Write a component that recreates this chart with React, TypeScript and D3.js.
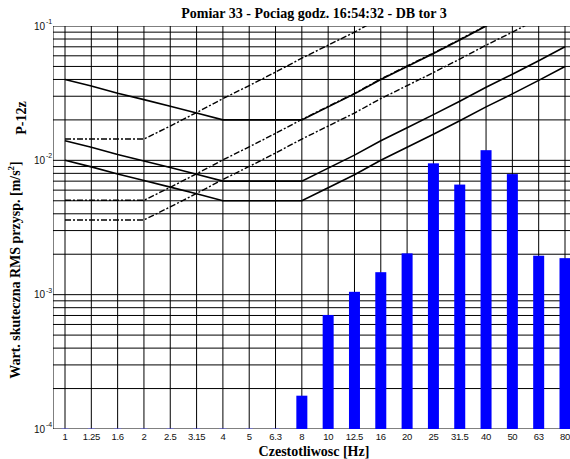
import React from "react";
import * as d3 from "d3";

const categories = ["1", "1.25", "1.6", "2", "2.5", "3.15", "4", "5", "6.3", "8", "10", "12.5", "16", "20", "25", "31.5", "40", "50", "63", "80"];
const measured = [0, 0, 0, 0, 0, 0, 0, 0, 0, 0.000177, 0.000706, 0.00105, 0.00147, 0.00203, 0.0095, 0.0066, 0.0119, 0.0079, 0.00195, 0.00187];

// Reference curves (solid: z-direction, dash-dot: x/y-direction)
const curveZ4 = [0.04, 0.0358, 0.0316, 0.0283, 0.0253, 0.0225, 0.02, 0.02, 0.02, 0.02, 0.025, 0.03125, 0.04, 0.05, 0.0625, 0.07875, 0.1, 0.125, 0.1575, 0.2];
const curveZ14 = [0.014, 0.01252, 0.01107, 0.0099, 0.00885, 0.00789, 0.007, 0.007, 0.007, 0.007, 0.00875, 0.01094, 0.014, 0.0175, 0.02188, 0.02756, 0.035, 0.04375, 0.05513, 0.07];
const curveZ1 = [0.01, 0.00894, 0.00791, 0.00707, 0.00632, 0.00563, 0.005, 0.005, 0.005, 0.005, 0.00625, 0.00781, 0.01, 0.0125, 0.01563, 0.01969, 0.025, 0.03125, 0.03938, 0.05];
const curveXY4 = [0.0144, 0.0144, 0.0144, 0.0144, 0.018, 0.02268, 0.0288, 0.036, 0.04536, 0.0576, 0.072, 0.09, 0.1152, 0.144, 0.18, 0.2268, 0.288, 0.36, 0.4536, 0.576];
const curveXY14 = [0.00504, 0.00504, 0.00504, 0.00504, 0.0063, 0.00794, 0.01008, 0.0126, 0.01588, 0.02016, 0.0252, 0.0315, 0.04032, 0.0504, 0.063, 0.07938, 0.1008, 0.126, 0.15876, 0.2016];
const curveXY1 = [0.0036, 0.0036, 0.0036, 0.0036, 0.0045, 0.00567, 0.0072, 0.009, 0.01134, 0.0144, 0.018, 0.0225, 0.0288, 0.036, 0.045, 0.0567, 0.072, 0.09, 0.1134, 0.144];

const yTickExponents = [-1, -2, -3, -4];

const title = "Pomiar 33 - Pociag godz. 16:54:32 - DB tor 3";
const xTitle = "Czestotliwosc [Hz]";
const seriesLabel = "P-12z";

export default function App() {
  const W = 570, H = 459;
  const left = 53, right = 580, top = 26, bottom = 429;
  const x = d3.scalePoint<string>().domain(categories).range([65, 565]);
  const y = d3.scaleLog().domain([1e-4, 1e-1]).range([bottom, top]);

  const hGrid: number[] = [];
  for (let e = -4; e <= -2; e++) {
    for (let k = 1; k <= 9; k++) hGrid.push(k * Math.pow(10, e));
  }
  hGrid.push(0.1);

  const line = d3
    .line<number>()
    .x((_, i) => x(categories[i]) as number)
    .y((d) => y(d));

  const solid = [curveZ4, curveZ14, curveZ1];
  const dashed = [curveXY4, curveXY14, curveXY1];
  const barW = 11;
  const sans = "'Liberation Sans', Arial, sans-serif";
  const serif = "'Liberation Serif', 'Times New Roman', serif";

  return (
    <svg width={W} height={H} style={{ position: "absolute", left: 0, top: 0, background: "#fff" }}>
      <defs>
        <clipPath id="plot">
          <rect x={left} y={top} width={right - left} height={bottom - top} />
        </clipPath>
      </defs>
      <rect x={0} y={0} width={W} height={H} fill="#fff" />
      <g clipPath="url(#plot)">
        {hGrid.map((v, i) => (
          <line key={"h" + i} x1={left} x2={right} y1={y(v)} y2={y(v)} stroke="#000" strokeWidth={1} />
        ))}
        {categories.map((c) => (
          <line key={"v" + c} x1={x(c)} x2={x(c)} y1={top} y2={bottom} stroke="#000" strokeWidth={1} />
        ))}
        <line x1={left} x2={left} y1={top} y2={bottom} stroke="#000" strokeWidth={1} />
        {measured.map((v, i) => {
          const cx = x(categories[i]) as number;
          if (v <= 1e-4) {
            return <line key={"b" + i} x1={cx - 3.5} x2={cx + 3.5} y1={bottom} y2={bottom} stroke="#6a6aff" strokeWidth={1} />;
          }
          return <rect key={"b" + i} x={cx - barW / 2} y={y(v)} width={barW} height={bottom - y(v)} fill="#0000ff" />;
        })}
        {dashed.map((d, i) => (
          <path key={"d" + i} d={line(d) as string} fill="none" stroke="#000" strokeWidth={1.4} strokeDasharray="6,2,2,2" />
        ))}
        {solid.map((d, i) => (
          <path key={"s" + i} d={line(d) as string} fill="none" stroke="#000" strokeWidth={1.6} />
        ))}
      </g>
      <text x={314} y={18} textAnchor="middle" fontFamily={serif} fontWeight="bold" fontSize={14}>
        {title}
      </text>
      {categories.map((c) => (
        <text key={"xt" + c} x={x(c)} y={440} textAnchor="middle" fontFamily={sans} fontSize={9.5} letterSpacing={-0.3} fill="#111">
          {c}
        </text>
      ))}
      {yTickExponents.map((e) => {
        const yy = y(Math.pow(10, e));
        return (
          <g key={"yt" + e}>
            <text x={45} y={yy + 3.5} textAnchor="end" fontFamily={sans} fontSize={10} fill="#111">
              10
            </text>
            <text x={46} y={yy - 2} fontFamily={sans} fontSize={7} fill="#111">
              {"-" + Math.abs(e)}
            </text>
          </g>
        );
      })}
      <text x={314} y={455.5} textAnchor="middle" fontFamily={serif} fontWeight="bold" fontSize={14}>
        {xTitle}
      </text>
      <text transform="translate(26,118) rotate(-90)" textAnchor="middle" fontFamily={serif} fontWeight="bold" fontSize={14}>
        {seriesLabel}
      </text>
      <text transform="translate(20,270) rotate(-90)" textAnchor="middle" fontFamily={serif} fontWeight="bold" fontSize={14}>
        Wart. skuteczna RMS przysp. [m/s
        <tspan dy={-6} fontSize={9}>2</tspan>
        <tspan dy={6}>]</tspan>
      </text>
    </svg>
  );
}
